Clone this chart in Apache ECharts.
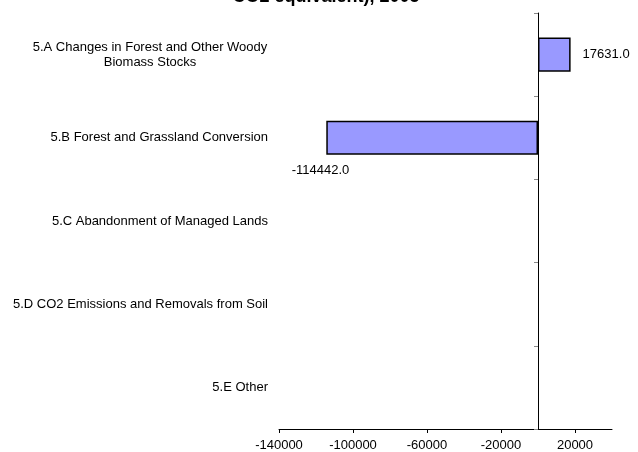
<!DOCTYPE html>
<html>
<head>
<meta charset="utf-8">
<script src="https://cdn.jsdelivr.net/npm/echarts@6/dist/echarts.min.js"></script>
<style>
html,body{margin:0;padding:0;background:#fff;}
#chart{width:638px;height:452px;}
</style>
</head>
<body>
<div id="chart"></div>
<script>
var titleText = 'CO2 equivalent), 2005';
var categories = [
  '5.A Changes in Forest and Other Woody\nBiomass Stocks',
  '5.B Forest and Grassland Conversion',
  '5.C Abandonment of Managed Lands',
  '5.D CO2 Emissions and Removals from Soil',
  '5.E Other'
];
var values = [17631.0, -114442.0, null, null, null];
var xTickValues = [-140000, -100000, -60000, -20000, 20000];
var xMin = -140000, xMax = 40000;

var FONT = 'Liberation Sans, Arial, sans-serif';
var chart = echarts.init(document.getElementById('chart'), null, {renderer: 'canvas'});

var seriesData = values.map(function (v, i) {
  if (v == null) return {value: null};
  var item = {value: v};
  if (v < 0) {
    item.label = {position: 'left', distance: 0, offset: [23, 33]};
  }
  return item;
});

chart.setOption({
  animation: false,
  backgroundColor: '#fff',
  title: {
    text: titleText,
    left: 326,
    textAlign: 'center',
    top: -12,
    padding: 0,
    textStyle: {fontFamily: FONT, fontSize: 18, fontWeight: 'bold', color: '#000'}
  },
  grid: {left: 279, right: 26, top: 13, bottom: 23, containLabel: false},
  xAxis: {
    type: 'value',
    min: xMin,
    max: xMax,
    splitLine: {show: false},
    axisLine: {show: true, onZero: false, lineStyle: {color: '#000', width: 1}},
    axisTick: {show: true, length: 4, customValues: xTickValues, lineStyle: {color: '#000'}},
    axisLabel: {
      customValues: xTickValues, color: '#000', fontFamily: FONT, fontSize: 13, margin: 10,
      formatter: function (v) { return String(v); }
    }
  },
  yAxis: [
    {
      type: 'category',
      data: categories,
      inverse: true,
      position: 'left',
      axisLine: {show: false, onZero: false},
      axisTick: {show: false},
      axisLabel: {
        margin: 11,
        color: '#000',
        fontFamily: FONT,
        fontSize: 13,
        formatter: function (v) {
          if (v.indexOf('\n') >= 0) {
            return v.split('\n').map(function (s) { return '{c|' + s + '}'; }).join('\n');
          }
          return v;
        },
        rich: {c: {width: 236, align: 'center', fontFamily: FONT, fontSize: 13, color: '#000', lineHeight: 15}}
      }
    },
    {
      type: 'category',
      data: categories,
      inverse: true,
      position: 'left',
      axisLine: {show: true, onZero: true, onZeroAxisIndex: 0, lineStyle: {color: '#000', width: 1}},
      axisTick: {show: true, length: 4, lineStyle: {color: '#888'}},
      axisLabel: {show: false}
    }
  ],
  series: [{
    type: 'bar',
    yAxisIndex: 0,
    data: seriesData,
    barWidth: '41%',
    itemStyle: {color: '#9999FF', borderColor: '#000', borderWidth: 1.5},
    label: {
      show: true,
      position: 'right',
      distance: 12,
      color: '#000',
      fontFamily: FONT,
      fontSize: 13,
      formatter: function (p) { return p.value == null ? '' : Number(p.value).toFixed(1); }
    }
  }]
});
</script>
</body>
</html>
